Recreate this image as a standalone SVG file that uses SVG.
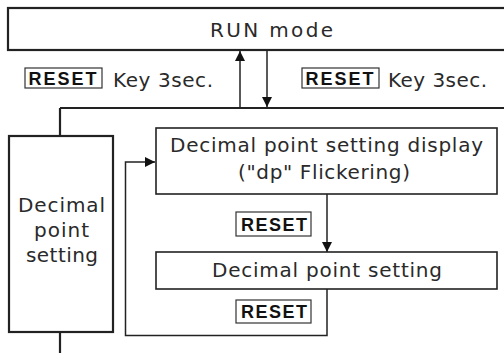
<svg xmlns="http://www.w3.org/2000/svg" width="504" height="353" viewBox="0 0 504 353">
<defs>
<style>
.box{fill:#fff;stroke:#222;stroke-width:1.6}
.thick{fill:#fff;stroke:#222;stroke-width:2.2}
.lbl{fill:#fff;stroke:#333;stroke-width:1.2}
.t{font-family:"DejaVu Sans","Liberation Sans",Arial,sans-serif;font-size:20px;fill:#2a2a2a}
.b{font-family:"Liberation Sans",Arial,sans-serif;font-size:18px;font-weight:bold;fill:#111}
.ln{fill:none;stroke:#222;stroke-width:1.5}
.lnk{fill:none;stroke:#222;stroke-width:2.2}
</style>
<marker id="ah" viewBox="0 0 10 10" refX="10" refY="5" markerWidth="10" markerHeight="10" markerUnits="userSpaceOnUse" orient="auto">
<path d="M0,0 L10,5 L0,10 Z" fill="#111"/>
</marker>
</defs>
<rect width="504" height="353" fill="#fff"/>
<g id="connectors">
<path class="lnk" d="M60,108 H504"/>
<path class="lnk" d="M60,108 V136"/>
<path class="lnk" d="M60,332 V353"/>
<path class="ln" d="M240,108 V51" marker-end="url(#ah)"/>
<path class="ln" d="M267,51 V107" marker-end="url(#ah)"/>
<path class="ln" d="M327,194 V252" marker-end="url(#ah)"/>
<path class="ln" d="M327,289 V335.5 H125.5 V162 H155" marker-end="url(#ah)"/>
</g>
<g id="run-mode">
<rect class="thick" x="8" y="8" width="510" height="42"/>
<text class="t" x="210" y="37" textLength="123" lengthAdjust="spacing">RUN mode</text>
</g>
<g id="label-left">
<rect class="lbl" x="25" y="68" width="77" height="20"/>
<text class="b" x="28.5" y="85" textLength="68" lengthAdjust="spacing">RESET</text>
<text class="t" x="113" y="87" textLength="100" lengthAdjust="spacing">Key 3sec.</text>
</g>
<g id="label-right">
<rect class="lbl" x="302" y="68" width="77" height="20"/>
<text class="b" x="305.5" y="85" textLength="68" lengthAdjust="spacing">RESET</text>
<text class="t" x="388" y="87" textLength="99" lengthAdjust="spacing">Key 3sec.</text>
</g>
<g id="decimal-point-setting-side">
<rect class="thick" x="9" y="136" width="104" height="196"/>
<text class="t" x="18" y="211.5" textLength="87" lengthAdjust="spacing">Decimal</text>
<text class="t" x="34" y="236.5" textLength="55" lengthAdjust="spacing">point</text>
<text class="t" x="26" y="262" textLength="72" lengthAdjust="spacing">setting</text>
</g>
<g id="dp-display">
<rect class="box" x="156" y="128" width="341" height="66"/>
<text class="t" x="170" y="152" textLength="313" lengthAdjust="spacing">Decimal point setting display</text>
<text class="t" x="238" y="179" textLength="172" lengthAdjust="spacing">("dp" Flickering)</text>
</g>
<g id="label-reset-1">
<rect class="lbl" x="236" y="212" width="75" height="24"/>
<text class="b" x="241" y="231" textLength="66" lengthAdjust="spacing">RESET</text>
</g>
<g id="dp-setting">
<rect class="box" x="156" y="252" width="341" height="37"/>
<text class="t" x="212" y="277" textLength="230" lengthAdjust="spacing">Decimal point setting</text>
</g>
<g id="label-reset-2">
<rect class="lbl" x="236" y="300" width="75" height="23"/>
<text class="b" x="241" y="318" textLength="66" lengthAdjust="spacing">RESET</text>
</g>
</svg>
